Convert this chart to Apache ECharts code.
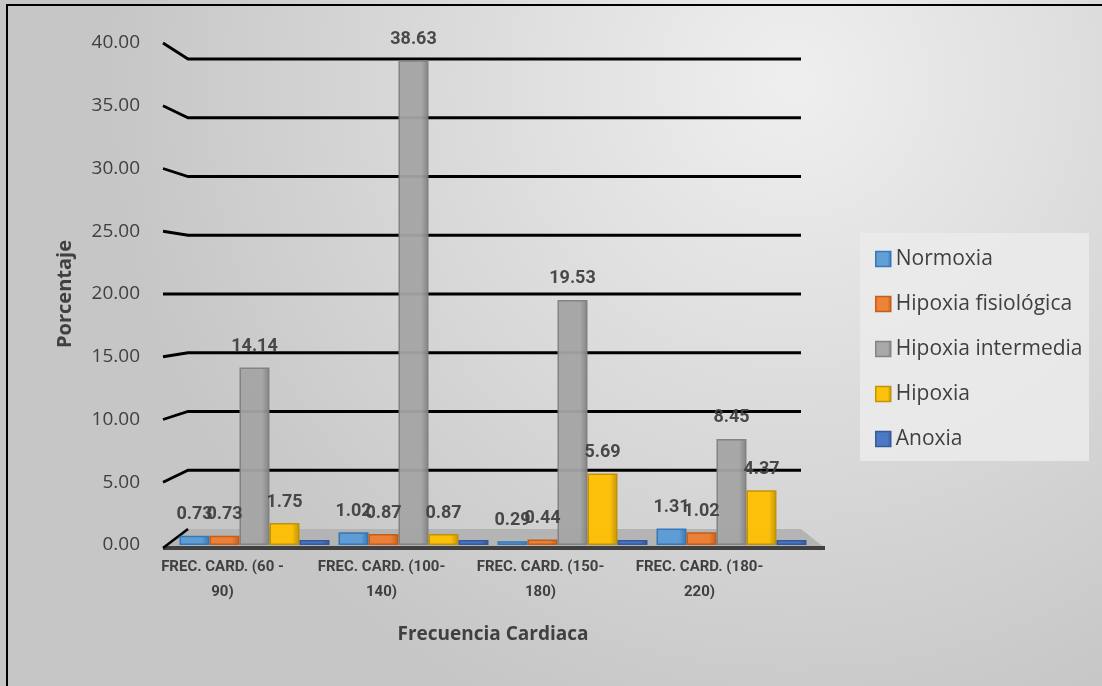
<!DOCTYPE html>
<html>
<head>
<meta charset="utf-8">
<script src="https://cdn.jsdelivr.net/npm/echarts@6/dist/echarts.min.js"></script>
<style>
html,body{margin:0;padding:0;background:#fff;}
#main{width:1102px;height:686px;}
</style>
</head>
<body>
<div id="main"></div>
<script>
var categories = ['FREC. CARD. (60 -\n90)', 'FREC. CARD. (100-\n140)', 'FREC. CARD. (150-\n180)', 'FREC. CARD. (180-\n220)'];
var seriesNames = ['Normoxia', 'Hipoxia fisiológica', 'Hipoxia intermedia', 'Hipoxia', 'Anoxia'];
var normoxia = [0.73, 1.02, 0.29, 1.31];
var hipoxiaFisiologica = [0.73, 0.87, 0.44, 1.02];
var hipoxiaIntermedia = [14.14, 38.63, 19.53, 8.45];
var hipoxia = [1.75, 0.87, 5.69, 4.37];
var anoxia = [0, 0, 0, 0];
var yTicks = [0, 5, 10, 15, 20, 25, 30, 35, 40];

var colors = ['#5b9bd5', '#ed7d31', '#a5a5a5', '#ffc000', '#4472c4'];
var borders = ['#2e75b6', '#c55a11', '#7f7f7f', '#bf9000', '#2f5597'];
var seriesData = [normoxia, hipoxiaFisiologica, hipoxiaIntermedia, hipoxia, anoxia];

var labelFont = "Roboto,'Noto Sans',sans-serif";
var mainFont = "'Open Sans','Noto Sans',sans-serif";

var chart = echarts.init(document.getElementById('main'));

var bars = seriesNames.map(function (name, i) {
  return {
    name: name,
    type: 'bar',
    data: seriesData[i],
    barWidth: 30,
    barGap: '0%',
    barMinHeight: i === 4 ? 5 : 0,
    z: 5,
    itemStyle: {
      color: new echarts.graphic.LinearGradient(0, 0, 1, 0, [
        {offset: 0, color: colors[i]},
        {offset: 0.75, color: colors[i]},
        {offset: 1, color: borders[i]}
      ]),
      borderColor: borders[i],
      borderWidth: 1.5,
      opacity: 0.95
    },
    label: {
      show: true,
      position: 'top',
      distance: 12,
      color: '#404040',
      fontFamily: labelFont,
      fontWeight: 'bold',
      fontSize: 18,
      formatter: function (p) { return p.value === 0 ? '' : p.value.toFixed(2); }
    }
  };
});

var gridDecor = {
  type: 'custom',
  name: '_grid',
  silent: true,
  z: 1,
  clip: false,
  data: yTicks.map(function (v) { return [0, v]; }),
  renderItem: function (params, api) {
    var cs = params.coordSys;
    var v = api.value(1);
    var yFront = api.coord([0, v])[1];
    var top = cs.y;
    var scale = (cs.height - 32) / cs.height;
    var yBack = top + 16 + (yFront - top) * scale;
    var children = [];
    if (params.dataIndex === 0) {
      var y0 = yFront;
      children.push({
        type: 'polygon',
        shape: {points: [[cs.x - 12, y0 + 3], [cs.x + 13, y0 - 16], [cs.x + cs.width - 10, y0 - 16], [cs.x + cs.width + 14, y0 + 3]]},
        style: {fill: '#b4b4b4', stroke: null}
      });
      children.push({
        type: 'line',
        shape: {x1: cs.x - 12, y1: y0 + 3, x2: cs.x + cs.width + 14, y2: y0 + 3},
        style: {stroke: '#404040', lineWidth: 4}
      });
      children.push({
        type: 'line',
        shape: {x1: cs.x - 12, y1: y0 + 3, x2: cs.x + 13, y2: y0 - 16},
        style: {stroke: '#000', lineWidth: 2.5}
      });
    } else {
      children.push({
        type: 'polyline',
        shape: {points: [[cs.x - 12, yFront], [cs.x + 13, yBack], [cs.x + cs.width - 10, yBack]]},
        style: {stroke: '#000', lineWidth: 2.8, fill: null}
      });
    }
    return {type: 'group', children: children};
  }
};

var option = {
  animation: false,
  backgroundColor: new echarts.graphic.RadialGradient(0.72, 0.12, 1.0, [
    {offset: 0, color: '#efefef'},
    {offset: 1, color: '#c6c6c6'}
  ]),
  graphic: [
    {type: 'line', shape: {x1: 6, y1: 5, x2: 1102, y2: 5}, style: {stroke: '#000', lineWidth: 2}, z: 100},
    {type: 'line', shape: {x1: 7, y1: 4, x2: 7, y2: 686}, style: {stroke: '#000', lineWidth: 2}, z: 100},
    {type: 'rect', shape: {x: 860, y: 233, width: 229, height: 228}, style: {fill: 'rgba(235,235,235,0.85)'}, z: 0}
  ],
  legend: {
    data: seriesNames,
    orient: 'vertical',
    left: 870,
    top: 242,
    itemWidth: 15,
    itemHeight: 15,
    itemGap: 21,
    icon: 'rect',
    textStyle: {color: '#404040', fontSize: 21, fontFamily: mainFont, lineHeight: 24},
    itemStyle: {borderWidth: 1.5}
  },
  grid: {left: 175, top: 43, width: 636, height: 502},
  xAxis: {
    type: 'category',
    data: categories,
    name: 'Frecuencia Cardiaca',
    nameLocation: 'middle',
    nameGap: 80,
    nameTextStyle: {color: '#404040', fontSize: 19, fontWeight: 'bold', fontFamily: mainFont},
    axisLine: {show: false},
    axisTick: {show: false},
    axisLabel: {
      color: '#404040',
      fontFamily: labelFont,
      fontWeight: 'bold',
      fontSize: 15,
      lineHeight: 25,
      margin: 10,
      padding: [0, 64, 0, 0],
      interval: 0
    }
  },
  yAxis: {
    type: 'value',
    min: 0,
    max: 40,
    interval: 5,
    name: 'Porcentaje',
    nameLocation: 'middle',
    nameGap: 100,
    nameRotate: 90,
    nameTextStyle: {color: '#404040', fontSize: 20, fontWeight: 'bold', fontFamily: mainFont},
    axisLine: {show: false},
    axisTick: {show: false},
    splitLine: {show: false},
    axisLabel: {
      color: '#404040',
      fontSize: 19,
      margin: 35,
      fontFamily: mainFont,
      formatter: function (v) { return v.toFixed(2); }
    }
  },
  series: [gridDecor].concat(bars)
};
chart.setOption(option);
</script>
</body>
</html>
